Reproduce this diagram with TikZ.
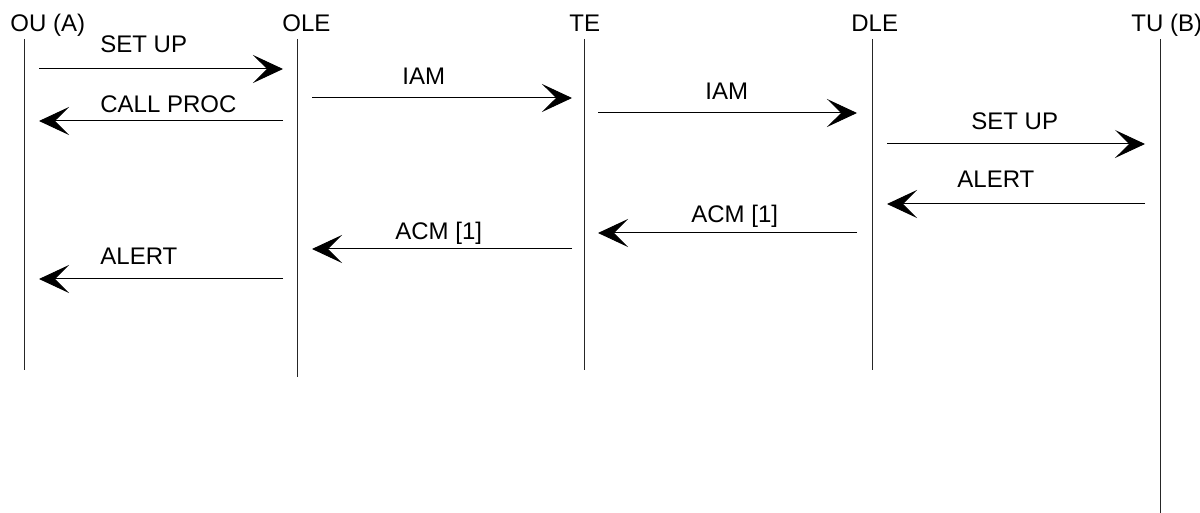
\documentclass[tikz,border=0pt]{standalone}
\usepackage{fontspec}
\setmainfont{Liberation Sans}
\usetikzlibrary{arrows.meta}
\usetikzlibrary{positioning}

\tikzset{
	lifeline/.style={line width=0.5pt, black!85},
	msg/.style={line width=0.5pt, -{Stealth[length=15pt, width=14pt, inset=7pt]}},
	lbl/.style={anchor=base west, inner sep=0pt, font=\fontsize{12}{14}\selectfont},
	head/.style={anchor=base west, inner sep=0pt, font=\fontsize{12}{14}\selectfont}
}

\begin{document}
\begin{tikzpicture}[x=0.5pt, y=-0.5pt]
			\useasboundingbox (0,0) rectangle (1200,513);
			
			% entities
			\node[head] (ou)  at (10,32)   {OU (A)};
			\node[head] (ole) at (282,32)  {OLE};
			\node[head] (te)  at (569,32)  {TE};
			\node[head] (dle) at (851,32)  {DLE};
			\node[head] (tu)  at (1131,32) {TU (B)};
			
			% lifelines
			\foreach \name/\x/\yend in {ou/24/370, ole/297/377, te/584/370, dle/872/370, tu/1160/513}{
				\coordinate (\name top) at (\x, 39);
				\coordinate (\name bot) at (\x, \yend);
				\draw[lifeline] (\name top) -- (\name bot);
			}
			
			% messages
			\foreach \xa/\xb/\y/\lx/\ly/\txt in {39/283/69/100/53/SET UP, 283/39/121/100/113/CALL PROC,
				312/572/98/402/85/IAM, 598/857/113/705/100/IAM, 887/1145/144/971/130/SET UP,
				1145/887/204/957/188/ALERT, 857/598/233/691/223/ACM [1], 572/312/249/395/240/ACM [1],
				283/39/279/100/265/ALERT}{
				\coordinate (from) at (\xa, \y);
				\coordinate (to) at (\xb, \y);
				\draw[msg] (from) -- (to);
				\node[lbl] at (\lx, \ly) {\txt};
			}
			
		\end{tikzpicture}
\end{document}
